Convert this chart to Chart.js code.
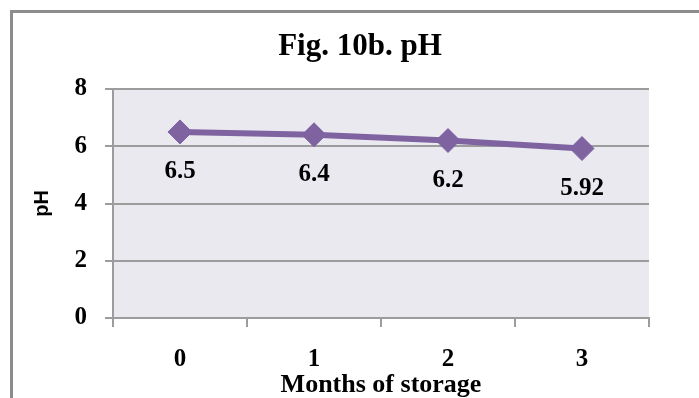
<!DOCTYPE html>
<html>
<head>
<meta charset="utf-8">
<script src="https://cdn.jsdelivr.net/npm/chart.js@4/dist/chart.umd.min.js"></script>
<style>
  html, body { margin: 0; padding: 0; background: #ffffff; }
  #wrap { width: 699px; height: 398px; }
</style>
</head>
<body>
<div id="wrap"><canvas id="c" width="699" height="398"></canvas></div>
<script>
// Months of storage and measured pH
const months = ['0', '1', '2', '3'];
const phValues = [6.5, 6.4, 6.2, 5.92];
const yTicks = [0, 2, 4, 6, 8];

const chartTitle = 'Fig. 10b. pH';
const xTitle = 'Months of storage';
const yTitle = 'pH';

const PURPLE = '#7F63A1';
const GRID = '#9c9c9c';
const SERIF = "'Liberation Serif', 'Times New Roman', serif";
const SANS = "'Liberation Sans', Arial, sans-serif";

// Frame, plot background, title and value labels
const decor = {
  id: 'decor',
  beforeDraw(chart) {
    const { ctx, chartArea: a, width, height } = chart;
    ctx.save();
    ctx.fillStyle = '#ffffff';
    ctx.fillRect(0, 0, width, height);
    ctx.fillStyle = '#EBE9F0';
    ctx.fillRect(a.left, a.top, a.right - a.left, a.bottom - a.top);
    ctx.strokeStyle = '#8c8c8c';
    ctx.lineWidth = 3;
    ctx.beginPath();
    ctx.moveTo(11.5, height);
    ctx.lineTo(11.5, 11.5);
    ctx.lineTo(width, 11.5);
    ctx.stroke();
    ctx.fillStyle = '#000000';
    ctx.font = 'bold 31px ' + SERIF;
    ctx.textAlign = 'center';
    ctx.textBaseline = 'middle';
    ctx.fillText(chartTitle, 360, 47);
    ctx.restore();
  },
  afterDatasetsDraw(chart) {
    const { ctx } = chart;
    const meta = chart.getDatasetMeta(0);
    ctx.save();
    ctx.fillStyle = '#000000';
    ctx.font = 'bold 25px ' + SERIF;
    ctx.textAlign = 'center';
    ctx.textBaseline = 'middle';
    meta.data.forEach((pt, i) => {
      ctx.fillText(String(phValues[i]), pt.x, pt.y + 40);
    });
    ctx.restore();
  }
};

new Chart(document.getElementById('c'), {
  type: 'line',
  data: {
    labels: months,
    datasets: [{
      data: phValues,
      borderColor: PURPLE,
      backgroundColor: PURPLE,
      borderWidth: 6,
      tension: 0,
      pointStyle: 'rectRot',
      pointRadius: 12,
      pointBackgroundColor: PURPLE,
      pointBorderColor: PURPLE,
      pointBorderWidth: 1,
      clip: false
    }]
  },
  options: {
    responsive: false,
    animation: false,
    events: [],
    layout: { padding: { top: 89, right: 50, left: 0, bottom: 0 } },
    plugins: {
      legend: { display: false },
      title: { display: false },
      tooltip: { enabled: false }
    },
    scales: {
      x: {
        type: 'category',
        offset: true,
        afterFit(scale) { scale.height = 80; },
        grid: {
          offset: true,
          drawOnChartArea: false,
          drawTicks: true,
          tickLength: 9,
          color: GRID,
          lineWidth: 2
        },
        border: { display: true, color: GRID, width: 2 },
        ticks: {
          color: '#000000',
          padding: 18,
          font: { family: SERIF, size: 25, weight: 'bold' }
        },
        title: {
          display: true,
          text: xTitle,
          color: '#000000',
          padding: { top: 0, bottom: 0 },
          font: { family: SERIF, size: 26, weight: 'bold', lineHeight: 1.0 }
        }
      },
      y: {
        min: 0,
        max: 8,
        afterFit(scale) { scale.width = 113; },
        afterBuildTicks(scale) { scale.ticks = yTicks.map(v => ({ value: v })); },
        grid: {
          color: GRID,
          lineWidth: 2,
          drawTicks: true,
          tickLength: 8
        },
        border: { display: true, color: GRID, width: 2 },
        ticks: {
          color: '#000000',
          padding: 18,
          font: { family: SERIF, size: 25, weight: 'bold' }
        },
        title: {
          display: true,
          text: yTitle,
          color: '#000000',
          padding: { top: 30, bottom: 0 },
          font: { family: SANS, size: 20, weight: 'bold', lineHeight: 1.2 }
        }
      }
    }
  },
  plugins: [decor]
});
</script>
</body>
</html>
